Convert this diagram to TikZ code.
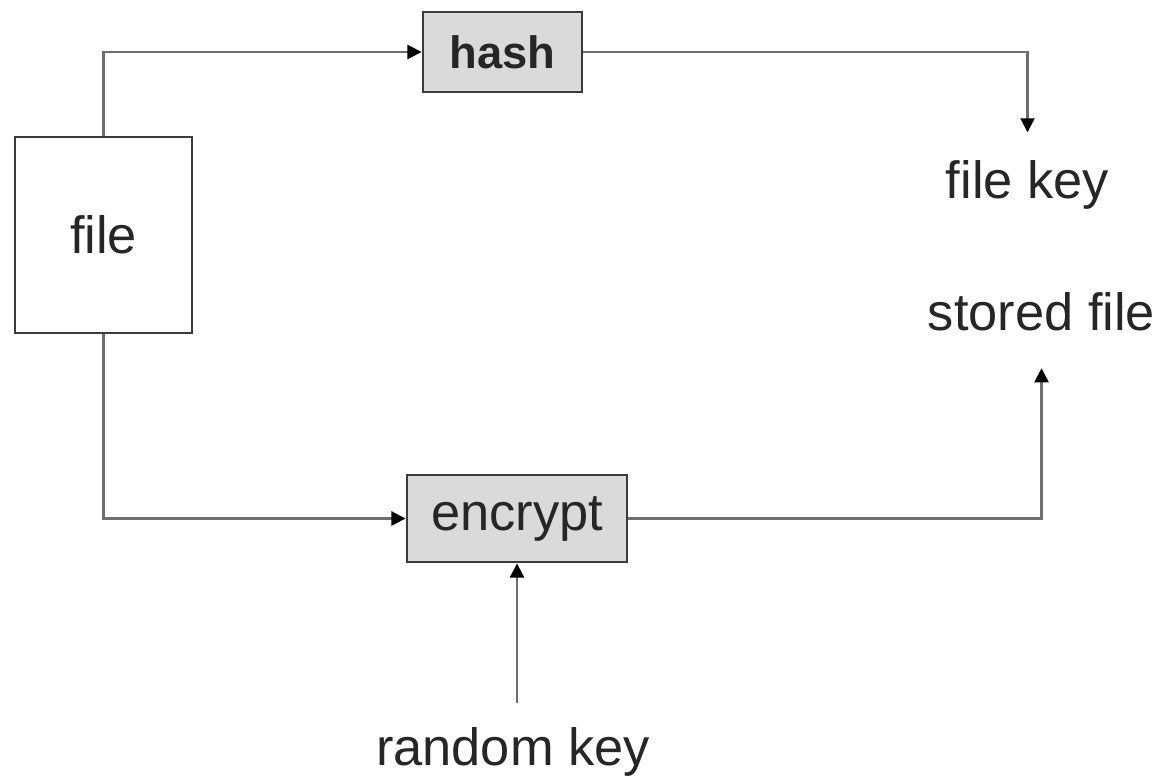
\documentclass[tikz,border=0pt]{standalone}
\usepackage{fontspec}
\setmainfont{Liberation Sans}
\usetikzlibrary{arrows.meta}
\definecolor{linegray}{HTML}{6E6E6E}
\definecolor{boxedge}{HTML}{3C3C3C}
\definecolor{boxfill}{HTML}{DADADA}
\begin{document}
\begin{tikzpicture}[x=0.01cm,y=-0.01cm,
  txt/.style={font=\fontsize{14.9}{18}\selectfont, text=black!85},
  plainbox/.style={draw=boxedge, line width=0.8pt, fill=white, inner sep=0pt, txt},
  procbox/.style={draw=boxedge, line width=0.8pt, fill=boxfill, inner sep=0pt, txt},
  label/.style={inner sep=0pt, anchor=base, txt},
  arr/.style={draw=linegray, line width=0.6pt, -{Triangle[length=4pt,width=4pt,color=black]}},
  conn/.style={draw=linegray, line width=0.6pt}]
\useasboundingbox (0,0) rectangle (1165,781);

% boxes
\node[plainbox, minimum width=1.77cm, minimum height=1.96cm] (file) at (103.5,235) {file};
\node[procbox, minimum width=1.59cm, minimum height=0.80cm,
      font=\fontsize{12.9}{15}\selectfont\bfseries] (hash) at (502.5,52) {hash};
\node[procbox, minimum width=2.20cm, minimum height=0.87cm] (enc) at (517,518.5) {encrypt};

% free-standing labels
\node[label] (fkey) at (1027.5,198) {file key};
\node[label] (sfile) at (1041.5,330) {stored file};
\node[label] (rkey) at (513,765) {random key};

% upper path: file -> hash -> file key
\draw[arr] (file.north) |- (hash.west);
\draw[arr, shorten >=0.27cm] (hash.east) -| (fkey.north);

% lower path: file -> encrypt -> stored file
\draw[arr] (file.south) |- (enc.west);
\draw[arr, shorten >=0.37cm] (enc.east) -| (sfile.south);

% random key feeds encrypt
\draw[arr, shorten <=0.23cm] (enc.south |- rkey.north) -- (enc.south);
\end{tikzpicture}
\end{document}
